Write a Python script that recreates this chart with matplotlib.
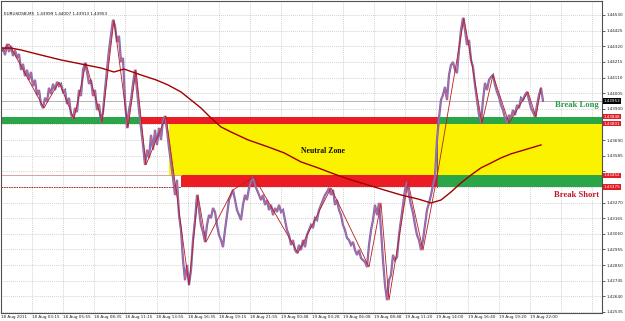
import numpy as np
import matplotlib
matplotlib.use("Agg")
import matplotlib.pyplot as plt

# ---------------- data ----------------
symbol_header = "EURUSDSB,M5  1.43999 1.44007 1.43913 1.43953"

close = [
    1.44282, 1.44308, 1.44261, 1.44335, 1.44282, 1.44322, 1.44255, 1.44295, 1.44241, 1.44268,
    1.44161, 1.44201, 1.44120, 1.44161, 1.44094, 1.44147, 1.44053, 1.44094, 1.43993, 1.44026,
    1.43932, 1.43905, 1.43973, 1.43946, 1.44040, 1.43999, 1.44067, 1.44026, 1.44080, 1.44053,
    1.44067, 1.44013, 1.44026, 1.43932, 1.43973, 1.43865, 1.43831, 1.43905, 1.43878, 1.44026,
    1.43986, 1.44161, 1.44208, 1.44147, 1.44067, 1.44094, 1.43986, 1.44026, 1.43892, 1.43932,
    1.43811, 1.43878, 1.44026, 1.44161, 1.44295, 1.44396, 1.44497, 1.44456, 1.44349, 1.44389,
    1.44214, 1.44241, 1.43959, 1.43771, 1.43892, 1.43959, 1.44067, 1.44161, 1.44026, 1.43892,
    1.43771, 1.43657, 1.43523, 1.43624, 1.43569, 1.43724, 1.43624, 1.43758, 1.43657, 1.43771,
    1.43691, 1.43825, 1.43851, 1.43758, 1.43637, 1.43542, 1.43435, 1.43321, 1.43422, 1.43186,
    1.43085, 1.42884, 1.42749, 1.42850, 1.42716, 1.42817, 1.43018, 1.43153, 1.43321, 1.43220,
    1.43119, 1.43072, 1.43005, 1.43119, 1.43186, 1.43166, 1.43233, 1.43207, 1.43119, 1.43052,
    1.43018, 1.42971, 1.43085, 1.43186, 1.43287, 1.43321, 1.43355, 1.43287, 1.43220, 1.43186,
    1.43153, 1.43254, 1.43321, 1.43287, 1.43368, 1.43408, 1.43442, 1.43388, 1.43355, 1.43321,
    1.43287, 1.43321, 1.43254, 1.43287, 1.43220, 1.43254, 1.43186, 1.43233, 1.43207, 1.43254,
    1.43207, 1.43220, 1.43153, 1.43085, 1.43052, 1.42985, 1.43018, 1.42951, 1.42931, 1.42985,
    1.42951, 1.43018, 1.42971, 1.43052, 1.43085, 1.43119, 1.43099, 1.43166, 1.43153, 1.43220,
    1.43254, 1.43287, 1.43321, 1.43341, 1.43368, 1.43321, 1.43355, 1.43254, 1.43287, 1.43220,
    1.43186, 1.43119, 1.43085, 1.43032, 1.43018, 1.42985, 1.43005, 1.42951, 1.42918, 1.42951,
    1.42897, 1.42884, 1.42870, 1.42837, 1.42985, 1.43085, 1.43153, 1.43254, 1.43186, 1.43267,
    1.43085, 1.42884, 1.42716, 1.42615, 1.42749, 1.42783, 1.42918, 1.42884, 1.42904, 1.43052,
    1.43153, 1.43254, 1.43355, 1.43408, 1.43321, 1.43254, 1.43200, 1.43119, 1.43052, 1.43018,
    1.42951, 1.43018, 1.43119, 1.43220, 1.43267, 1.43321, 1.43388, 1.43442, 1.43691, 1.43838,
    1.43959, 1.43993, 1.44046, 1.43959, 1.44127, 1.44194, 1.44214, 1.44161, 1.44140, 1.44295,
    1.44429, 1.44510, 1.44429, 1.44329, 1.44362, 1.44228, 1.44181, 1.44060, 1.43959, 1.43858,
    1.43804, 1.43959, 1.44073, 1.44026, 1.44094, 1.44114, 1.44127, 1.44060, 1.44013, 1.43979,
    1.43925, 1.43892, 1.43838, 1.43804, 1.43858, 1.43838, 1.43892, 1.43858, 1.43925, 1.43905,
    1.43973, 1.43959, 1.43993, 1.44013, 1.43959, 1.43905, 1.43878, 1.43845, 1.43925, 1.43993,
    1.44040, 1.43953,
]
bar_step = 2

ma_bars = [0, 10, 20, 40, 60, 80, 100, 113, 123, 140, 155, 167, 180, 190, 200, 210, 220, 230,
           247, 267, 283, 300, 317, 333, 350, 367, 383, 400, 417, 430, 440, 450, 460, 470, 480,
           490, 500, 510, 520, 530, 540]
ma_values = [1.44308, 1.44308, 1.44295, 1.44261, 1.44228, 1.44201, 1.44174, 1.44147, 1.44167,
             1.44127, 1.44094, 1.44060, 1.44013, 1.43959, 1.43905, 1.43838, 1.43778, 1.43744,
             1.43691, 1.43644, 1.43604, 1.43543, 1.43503, 1.43462, 1.43422, 1.43388, 1.43355,
             1.43321, 1.43294, 1.43267, 1.43287, 1.43341, 1.43402, 1.43455, 1.43503, 1.43536,
             1.43570, 1.43597, 1.43617, 1.43637, 1.43657]

zz_bars = [0, 8, 43, 58, 73, 85, 101, 113, 127, 135, 145, 165, 188, 197, 205, 232, 253, 297,
           330, 368, 380, 388, 407, 422, 436, 463, 481, 492, 508, 527, 535, 540]
zz_values = [1.44282, 1.44335, 1.43905, 1.44080, 1.43831, 1.44208, 1.43811, 1.44497, 1.43771,
             1.44161, 1.43523, 1.43851, 1.42716, 1.43321, 1.43005, 1.43355, 1.43442, 1.42931,
             1.43368, 1.42837, 1.43267, 1.42615, 1.43408, 1.42951, 1.43442, 1.44510, 1.43804,
             1.44127, 1.43804, 1.44013, 1.43845, 1.44040]

# zone levels
break_long_hi, break_long_lo = 1.43848, 1.43801
break_short_hi, break_short_lo = 1.43452, 1.43375
bid = 1.43953
zone_start_long, zone_switch, zone_end = 140, 436, 601
zone_start_yellow, zone_start_short = 168, 180

x_labels = ["18 Aug 2011", "18 Aug 03:15", "18 Aug 05:55", "18 Aug 08:35", "18 Aug 11:15",
            "18 Aug 13:55", "18 Aug 16:35", "18 Aug 19:15", "18 Aug 21:55", "19 Aug 00:48",
            "19 Aug 03:28", "19 Aug 06:08", "19 Aug 08:48", "19 Aug 11:20", "19 Aug 14:00",
            "19 Aug 16:40", "19 Aug 19:20", "19 Aug 22:00"]
y_top_tick, y_tick_step, n_yticks = 1.44530, 0.00105, 20

# ---------------- figure ----------------
W, H = 625, 321
fig = plt.figure(figsize=(W / 100, H / 100), dpi=100)
fig.patch.set_facecolor("white")
ax = fig.add_axes([1 / W, 1 - 313 / H, 601 / W, 312 / H])
ax.set_facecolor("white")
ax.set_xlim(0, 601)
ax.set_ylim(1.42528, 1.44624)

grid_step = 31.1
xt = np.arange(0, 601, grid_step)
yt = y_top_tick - np.arange(n_yticks) * y_tick_step

for x in xt:
    ax.axvline(x, color="#b8b8b8", lw=0.5, ls=(0, (1.2, 1.6)), zorder=0)
for y in yt:
    ax.axhline(y, color="#b8b8b8", lw=0.5, ls=(0, (1.2, 1.6)), zorder=0)

# zones
ax.fill_between([zone_start_yellow, zone_end], break_short_hi, break_long_lo,
                color="#fbf200", lw=0, zorder=1)
ax.fill_between([0, zone_start_long], break_long_lo, break_long_hi, color="#2aa548", lw=0, zorder=1)
ax.fill_between([zone_start_long, zone_switch], break_long_lo, break_long_hi, color="#ec1c24", lw=0, zorder=1)
ax.fill_between([zone_switch, zone_end], break_long_lo, break_long_hi, color="#2aa548", lw=0, zorder=1)
ax.fill_between([zone_start_short, zone_switch], break_short_lo, break_short_hi, color="#ec1c24", lw=0, zorder=1)
ax.fill_between([zone_switch, zone_end], break_short_lo, break_short_hi, color="#2aa548", lw=0, zorder=1)

ax.plot([0, zone_start_short], [break_short_hi, break_short_hi], color="#d8a0a0", lw=0.7, zorder=1.5)
ax.plot([0, zone_start_short], [break_short_lo, break_short_lo], color="#a01818", lw=0.6,
        ls=(0, (2, 1)), zorder=1.5)
ax.axhline(bid, color="#a8a8a8", lw=0.6, zorder=1.5)
ax.plot([zone_switch, zone_switch], [break_short_lo, break_long_hi], color="#606060", lw=0.7, zorder=1.6)

# price
bars = np.arange(len(close)) * bar_step
ax.plot(bars, close, color="#6a6ac8", lw=1.6, zorder=2, solid_joinstyle="miter")
ax.plot(bars, close, color="#d86878", lw=0.7, alpha=0.85, zorder=2.2)
ax.plot(zz_bars, zz_values, color="#b81c1c", lw=0.6, zorder=2.4)
ax.plot(ma_bars, ma_values, color="#a00000", lw=1.0, zorder=2.5)

# texts
serif = ["Liberation Serif", "DejaVu Serif"]
ax.text(322, 1.43615, "Neutral Zone", fontsize=5.6, fontweight="bold", family=serif,
        color="#101010", ha="center", va="center", zorder=3)
ax.text(598, 1.43925, "Break Long", fontsize=6.2, fontweight="bold", family=serif,
        color="#2a9a48", ha="right", va="center", zorder=3)
ax.text(598, 1.43320, "Break Short", fontsize=6.2, fontweight="bold", family=serif,
        color="#c0182a", ha="right", va="center", zorder=3)
ax.text(3, 1.44540, symbol_header, fontsize=3.0, color="#101010", ha="left", va="center", zorder=3)

# price label boxes (on the right scale)
box_levels = [(bid, "#000000"), (break_long_hi, "#e01c24"), (break_long_lo, "#e01c24"),
              (break_short_hi, "#e01c24"), (break_short_lo, "#e01c24")]

# axes styling
ax.yaxis.tick_right()
ax.set_yticks(yt)
ylabels = []
for v in yt:
    near = any(abs(v - b) < 0.00036 for b, _ in box_levels)
    ylabels.append("" if near else f"{v:.5f}")
ax.set_yticklabels(ylabels)
ax.set_xticks(xt[:len(x_labels)])
ax.set_xticklabels(x_labels, ha="left")
ax.tick_params(axis="y", labelsize=3.0, length=2, width=0.5, pad=1, colors="#202020")
ax.tick_params(axis="x", labelsize=3.0, length=0, pad=1.5, colors="#202020")
for s in ax.spines.values():
    s.set_color("#505050")
    s.set_linewidth(0.8)

for v, fc in box_levels:
    ax.text(1.003, v, f"{v:.5f}", transform=ax.get_yaxis_transform(), fontsize=3.0,
            color="white", ha="left", va="center", zorder=5, clip_on=False,
            bbox=dict(boxstyle="square,pad=0.15", fc=fc, ec=fc, lw=0))

fig.savefig("out.png", dpi=100, facecolor="white")
